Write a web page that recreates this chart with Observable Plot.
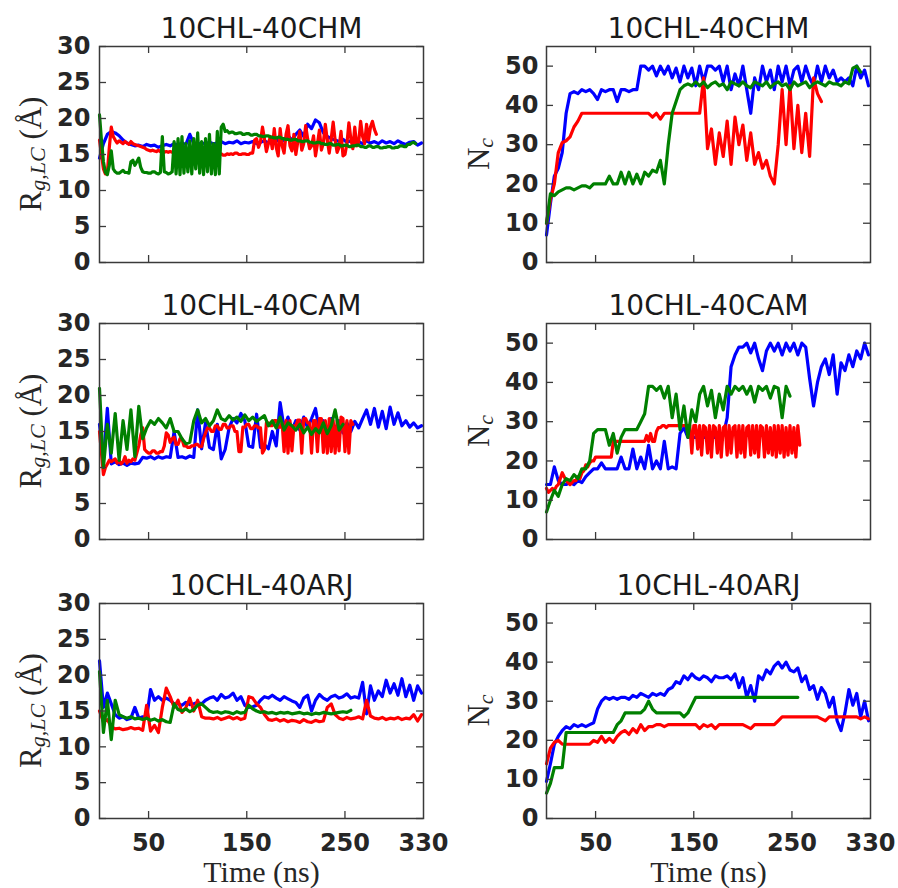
<!DOCTYPE html>
<html><head><meta charset="utf-8">
<script src="https://cdn.jsdelivr.net/npm/d3@7"></script>
<script src="https://cdn.jsdelivr.net/npm/@observablehq/plot@0.6"></script>
<style>
body{margin:0;background:#fff;}
#chart{position:relative;width:898px;height:888px;background:#fff;overflow:hidden;}
#chart svg{position:absolute;}
</style></head><body><div id="chart"></div>
<script>
// ---------------- data ----------------
const DT = 4;   // ns between samples (standard series)
const FINE = 2; // ns between samples (finely sampled, noisy series)
const xTicks = [50, 150, 250];
const xTickLabels = [50, 150, 250, 330];
const rgTicks = [0, 5, 10, 15, 20, 25, 30];
const ncTicks = [0, 10, 20, 30, 40, 50];
const panelTitles = ["10CHL-40CHM", "10CHL-40CAM", "10CHL-40ARJ"];
const seriesColors = ["#0000ff", "#ff0000", "#008000"];
const xLabel = "Time (ns)";

// Rg,LC (Å) — 10CHL-40CHM
const rgChmBlue = [14.5,16.5,17.8,18.2,18,17.6,17,16.6,16.4,16.2,
16.3,16.1,16.4,16.2,16.3,16,16.2,16.4,16.2,16.5,
16.3,16.6,16.4,17.8,16.5,16.4,16.6,16.5,16.7,16.5,
16.6,16.8,16.5,16.7,16.6,16.9,16.5,16.7,16.6,16.8,
16.5,16.7,16.9,16.6,17.2,16.8,17.4,16.9,17.6,17,
17.8,18.4,17.5,19.2,18.6,19.8,19.4,18,17.5,17.2,
17,16.8,17.1,16.7,16.9,16.6,16.8,16.5,16.9,16.6,
16.8,16.5,16.9,16.6,16.8,16.5,16.9,16.6,16.4,16.7,
16.8,16.3,16.6];
const rgChmRed = [17,15,13,12.3,12.5,16,18.8,17.5,17,16.6,
16.9,16.7,16.5,16.8,16.6,16.4,16.8,16.5,16.4,16.3,
16.2,16.1,16,15.9,15.7,15.6,15.5,15.6,15.5,15.4,
15.6,15.4,15.5,15.3,15.4,15.3,15.4,15.3,15.3,15.2,
15.3,15.2,15.2,15.3,15.4,15.2,15.2,15.3,15.3,15.1,
15.1,15.2,15.2,15,15.1,15.2,15.3,15.1,15.1,15.2,
15,15.1,15.1,14.9,14.9,15.1,15,15.1,15,15.2,
15.2,15,15,15.1,15.1,15,15,15.2,15.2,17,
17.2,16,16.8,18.8,17.2,15.4,16.5,17.5,15.8,18.6,
16,14.8,18.6,16.2,15.2,17.8,19,16.2,15.5,17.8,
15,16.8,18.2,15.6,16.5,19,17.2,15.8,16.2,17.6,
14.8,16.5,18.4,15.6,16.6,19.2,17,15.2,17.2,19.5,
17,15.3,16,18.2,14.8,15,16.5,19.4,17.2,15.8,
18.8,16.2,16.8,19.6,17.5,16.5,19.2,17,18.8,19.6,
18.5,17.8];
const rgChmGreen = [20.5,17,14,12.5,12.2,13.5,15.5,13,12.6,12.4,
12.4,12.6,12.8,12.5,12.5,12.4,14,14.2,13.5,14,
14.5,13.2,12.6,12.5,12.5,12.4,12.4,12.6,12.6,12.4,
12.3,12.5,17.5,12.6,12.5,12.3,12.4,12.6,16.8,12.3,
17.2,12.2,17.5,12.4,16.5,12.6,16.9,12.3,17.2,13,
18,12.4,16.8,12.2,17.2,12.6,17.8,12.3,16.5,12.2,
18.2,12.3,18.8,19.2,18.2,18.3,18,18.1,18.1,17.9,
17.9,18,18,17.8,17.8,17.9,17.9,17.7,17.7,17.8,
17.8,17.6,17.6,17.5,17.5,17.6,17.6,17.4,17.4,17.3,
17.3,17.4,17.4,17.2,17.2,17.1,17.1,17,17,17.1,
17.1,16.9,16.9,16.8,16.8,16.9,16.9,16.7,16.7,16.6,
16.6,16.7,16.7,16.5,16.5,16.4,16.4,16.5,16.5,16.3,
16.3,16.4,16.4,16.2,16.2,16.3,16.3,16.1,16.1,16.2,
16.2,16.3,16.3,16.1,16.1,16,16,16.2,16.2,16,
16,16.1,16.1,15.9,15.9,16,16,16.1,16.1,15.9,
15.9,16,16,16.2,16.2,16.1,16.1,16.4,16.4,16.6,
16.7,16.5];

// Nc — 10CHL-40CHM
const ncChmBlue = [7,15,22,24,28,38,43,43.5,43,44,
43.5,44,43,41.5,44,43.5,44,44,41,44,
44,43.5,44,44,50,50,49,50,47.5,50,
48,50,47,49.5,46,50,47,49.5,45,50,
46,50,50,49,50,46,50,44,48,45,
50,44,38,47,44,50,46,49,44,50,
46,50,45,49,50,46,50,47,45,50,
46,50,47,49,46,47,46,47,45,50,
47,49,45];
const ncChmRed = [10,16,20,28,30.5,31,32,34.5,36,38,
38,38,38,38,38,38,38,38,38,38,
38,38,38,38,38,38,38,37,38,36.5,
38,38,38,38,38,38,38,38,38,38,
47,29,34,25,33,27,36,25,37,30,
35,26,33,25,28,24,26,22,20,30,
44,30,45,29,40,28,38,27,47,43,
41];
const ncChmGreen = [10,17.5,17,18,18.5,19,19,18.5,19,19.5,
19.5,19,20,20,20,20,22,20,20,23,
20,23,20,22.5,20,23,22,23.5,23,26,
20,30,38,41,44,45,45.5,45,46,45,
46,44.5,45.5,46,45,45.5,44,46,45.5,45,
46,45,44.5,46,45.5,45,46,44.5,45.5,46,
45,45.5,44,46,45,45.5,46,44.5,45.5,46,
45.5,45,46,45.5,45.5,45,46,45.5,49.5,50,
48.5];

// Rg,LC (Å) — 10CHL-40CAM
const rgCamBlue = [16,11,18.2,10.5,10.8,10.4,10.6,10.3,10.6,10.5,
10.6,11.4,11.3,11.5,11.2,11.5,11.3,11.5,11.4,15,
11.4,11.5,11.3,11.6,11.4,18,12.6,16.2,12.8,12.5,
16,11.2,12.5,15.5,16.8,16.2,17.5,16.5,13,12.8,
17.4,12.8,13.2,12.6,15,13,19,15.5,17,15.2,
16.5,15.2,17,15.5,16.8,18.2,15,16.5,14.8,16.8,
15.2,16.5,14.8,16.2,15,16.4,15.5,16.8,18,16,
18.2,15.6,17.8,15.4,18.4,16,17.6,15.8,16.5,15.6,
16.2,15.5,15.8];
const rgCamRed = [15,12,9,10,10.5,11,10.8,11,11.2,10.6,
11,10.5,10.8,11.5,10.6,11,10.8,11.2,11,12,
13,14.5,15.5,12.5,12.2,12,12,12.3,12.3,12,
12,12.2,12.2,13,14.8,14.5,13.5,14,14.2,13.2,
13.2,14,14,13,13,12.8,12.8,13,13,13.2,
13.2,12.9,12.9,14,14.8,15.5,15.5,15,15,15.8,
15.8,15.3,15.3,16,16,15.5,15.5,15.8,15.8,15,
15,12.2,12.2,15.6,15.6,16,16,15.4,15.4,15.8,
15.8,15.5,15.5,12,12.5,16.2,16.2,15.8,15.8,16.5,
16.5,15.6,15.6,16.2,12.2,16.5,12,16.5,12.3,15.8,
15.8,16.6,16.6,12,16.8,16.8,16.2,16.2,12,16.5,
16.5,12.2,16.8,16.8,12.1,16.5,12,16.8,12.2,16.5,
12,16.5,12.3,17,16.8,12.2,16.5,12,16.5,16];
const rgCamGreen = [21,10,16,12,17.5,11,16.5,12.5,18,11.5,
18.5,14,15.5,16.5,16,16.8,16.2,15.5,16.8,15,
15,14,13.3,13.5,16.5,18,16.2,16.8,15.8,16.5,
18,16.8,16.5,17.2,16.6,17,16.4,17.3,16.5,17,
16.4,16.8,17.2,15.8,16.5,15.5,17,15.2,16.2,15.8,
15.2,16,14.8,15.6,14.6,15.4,14.8,16.2,14.7,15.8,
18,15.2,16];

// Nc — 10CHL-40CAM
const ncCamBlue = [14,14,18.5,15,14,14,14.5,14,15,14.5,
16,17,18,18,19.5,18,18,18,18,21,
18,18,23,18,21,18,24,18,20,18,
25,18,18.5,18,27,28.5,26,26,26,26,
26,26,26,26,26,26.5,31,44,47,49,
49,50,47.5,50,46,43,48,50,48,50,
47,50,48,50,47,50,49,41,34,40,
44,46,42,47,37,45,43,47,44,48,
46,50,47];
const ncCamRed = [13,12,12.5,13,12.5,13.5,14,15.5,17,16,
15,14.5,14,14.5,15,15,16,15.5,17,17.5,
19,18.5,19.5,20,20,21,21,21,21,21,
21,21,21,21,25,25,25,25,25,25,
25,25,25,25,25,25,25,25,25,25,
25,26.5,25,27,25,25,27.5,28.5,28.5,29,
29,28.5,29,29,29,29,29,29,29,29,
29,29,29,29,22,29,29,23,29,21.5,
29,28.5,22,29,21,29,28.5,22,29,21,
28.5,29,21.5,29,22,28.5,29,21,29,22,
29,21,28.5,29,21.5,29,22,29,21,29,
28.5,21,29,22,28.5,21.5,29,21,29,22,
29,21,28.5,21.5,29,22,28.5,21,29,24];
const ncCamGreen = [7,10,12.5,11,14,15.5,15,16.5,15.5,18,
18,20,27,28,28,28,24,27,22,26,
28,28,28,28,30,32,39,39,38,39,
36,39,31,37,28,34,26,33,30,37,
39,34,38,31,37,33,39,37,39,38,
39,37,39,35,39,38,39,36,39,38.5,
31,39,36.5];

// Rg,LC (Å) — 10CHL-40ARJ
const rgArjBlue = [22,15.5,17.5,16,14.5,14,14.2,13.8,14,15.5,
14,14.2,14,18,16.5,17,16.5,16.8,16.5,16,
16,15.8,16.2,15.9,16,16.2,16,16.5,16.8,17,
16.5,17.3,16.8,17,17.5,16.5,17,15.8,15.5,15.6,
15.8,16.5,17,16.8,17.2,16.8,16.5,17,16.7,16.4,
16.2,15.5,16.8,17.2,15,16.5,17.3,16.8,16.5,17,
17.2,16.8,17,17.4,16.8,17,16.8,19,14.6,18.5,
16.5,17.8,17,19.3,17.5,18.8,17.2,19.5,17,18.6,
16.5,18.5,17.5];
const rgArjRed = [15,13.5,13.8,12.8,12.5,12.6,12.4,12.5,12.7,12.5,
12.6,12.3,15.8,12.2,13,12,15.5,18.2,17,15.5,
16.5,14.8,15.5,16.8,15,16.5,14.2,14,14,13.9,
14.1,13.8,14,14.2,13.9,14.1,13.8,14,17,16.8,
16,15.5,14.5,13.8,13.7,13.9,13.6,13.8,13.5,13.7,
13.6,13.4,13.8,13.5,13.4,13.7,13.5,13.6,15.5,16,
14.5,14,13.8,14.1,13.9,14,14.2,13.9,16.5,14.3,
14,13.9,14.1,13.8,14,13.9,14.1,13.8,14,13.9,
14.5,13.6,14.5];
const rgArjGreen = [20.5,12,16.5,11,16.5,14.5,14.2,14,14.2,13.9,
14,13.8,14,13.7,13.9,13.6,13.8,13.5,13.4,16,
15.2,15,15.3,14.9,15.2,15.8,16,15.5,15,14.8,
14.9,14.7,14.9,14.8,14.6,14.9,14.7,14.8,15.8,15.3,
15,14.8,14.9,14.7,14.8,14.6,14.8,14.7,14.8,14.6,
14.7,14.8,14.6,14.7,14.5,14.7,14.6,14.8,14.7,14.6,
14.7,14.8,14.9,14.8,15.1];

// Nc — 10CHL-40ARJ
const ncArjBlue = [9.5,14,19,21,22.5,23.5,23,24,23.5,24,
23.5,24,24.5,28,30,31,30.5,31,30.5,31,
31,30.5,31.5,31,32,31.5,31,32,31.5,32,
31.5,33,33.5,35,34.5,36.5,35.5,37,36,35.5,
36.5,36,35,36.5,36,36,36.5,35.5,37,33.5,
36,31,34,30,36.5,35.5,38,37,39,40,
38.5,40,38,37.5,38.5,35,36.5,33,34,30.5,
33.5,32,28.5,31,25,22.5,27,33,29,32,
26,30,25];
const ncArjRed = [14,18,19.5,20,19,19,19,19,19,19,
19,19,20,19.5,21,19.5,20.5,19.5,21,22,
22.5,21.5,23,22,24,22.5,23.5,23.5,24,24,
23.5,24,24,24,24,24,24,24,24,23,
24,23.5,24,23,24,24,24,24,24,24,
24,23.5,23,24,24,24,24,24,24,25,
26,26,26,26,26,26,26,26,26,26,
25.5,25,26,26,26,26,26,26,26,26,
25.5,26,25.5];
const ncArjGreen = [6.5,9,13,13,13,22,22,22,22,22,
22,22,22,22,22,22,22,22,24,25,
27,27,27,27,27,28,30,28,27,27,
27,27,27,27,27,26,27,29,31,31,
31,31,31,31,31,31,31,31,31,31,
31,31,31,31,31,31,31,31,31,31,
31,31,31,31,31];

// ---------------- drawing ----------------
const rows = [
  {rg: [[rgChmBlue, DT], [rgChmRed, FINE], [rgChmGreen, FINE]],
   nc: [[ncChmBlue, DT], [ncChmRed, DT], [ncChmGreen, DT]]},
  {rg: [[rgCamBlue, DT], [rgCamRed, FINE], [rgCamGreen, DT]],
   nc: [[ncCamBlue, DT], [ncCamRed, FINE], [ncCamGreen, DT]]},
  {rg: [[rgArjBlue, DT], [rgArjRed, DT], [rgArjGreen, DT]],
   nc: [[ncArjBlue, DT], [ncArjRed, DT], [ncArjGreen, DT]]}
];
const rowLayout = [
  {top: 0, ph: 216, mb: 15},
  {top: 277, ph: 216, mb: 18},
  {top: 557, ph: 215, mb: 70}
];
const INK = "#3a3a3a";
const TXT = "#262626";
const chart = document.getElementById("chart");

function panel(r, col) {
  const {top, ph, mb} = rowLayout[r];
  const showX = r === 2;
  const W = 449, mt = 46;
  const ml = col === 0 ? 99 : 97, mr = col === 0 ? 26 : 28;
  const pw = W - ml - mr, H = mt + ph + mb;
  const lines = col === 0 ? rows[r].rg : rows[r].nc;
  const yTicks = col === 0 ? rgTicks : ncTicks;
  const yMax = col === 0 ? 30 : 55;
  const marks = [];
  lines.forEach(([vals, step], k) => {
    marks.push(Plot.line(vals.map((v, i) => ({t: i * step, v})),
      {x: "t", y: "v", stroke: seriesColors[k], strokeWidth: 3.2, strokeLinejoin: "round"}));
  });
  marks.push(Plot.frame({stroke: INK, strokeWidth: 1.5}));
  marks.push(Plot.tickY(yTicks, {y: d => d, stroke: INK, strokeWidth: 1.3, insetRight: pw - 7}));
  marks.push(Plot.tickY(yTicks, {y: d => d, stroke: INK, strokeWidth: 1.3, insetLeft: pw - 7}));
  marks.push(Plot.tickX(xTicks, {x: d => d, stroke: INK, strokeWidth: 1.3, insetTop: ph - 7}));
  marks.push(Plot.tickX(xTicks, {x: d => d, stroke: INK, strokeWidth: 1.3, insetBottom: ph - 7}));
  marks.push(Plot.axisY(yTicks, {anchor: "left", tickSize: 0, tickPadding: col === 0 ? 9 : 8, label: null,
    fontSize: 24, fontWeight: "bold", fill: TXT}));
  if (showX) {
    marks.push(Plot.axisX(xTickLabels, {anchor: "bottom", tickSize: 0, tickPadding: 15, label: null,
      fontSize: 24, fontWeight: "bold", fill: TXT}));
    marks.push(Plot.text([xLabel], {frameAnchor: "bottom", lineAnchor: "middle", dy: 54, fontSize: 30,
      fontFamily: "Liberation Serif", fill: TXT}));
  }
  marks.push(Plot.text([panelTitles[r]], {frameAnchor: "top", lineAnchor: "middle", dy: -17, fontSize: 28, fill: "#1a1a1a"}));
  const svg = Plot.plot({
    width: W, height: H, marginLeft: ml, marginRight: mr, marginTop: mt, marginBottom: mb,
    x: {domain: [0, 330], axis: showX ? undefined : null},
    y: {domain: [0, yMax]},
    style: {fontFamily: "DejaVu Sans", background: "transparent", overflow: "visible"},
    marks
  });
  svg.style.left = (col === 0 ? 0 : 449) + "px";
  svg.style.top = top + "px";
  // y-axis label with subscript
  const cy = mt + ph / 2;
  const lab = d3.select(svg).append("text")
    .attr("transform", `translate(${col === 0 ? 30 : 29},${cy}) rotate(-90)`)
    .attr("text-anchor", "middle").attr("dominant-baseline", "central")
    .attr("fill", TXT).style("font-family", "Liberation Serif").style("font-size", "31px");
  if (col === 0) {
    lab.append("tspan").text("R");
    lab.append("tspan").attr("dy", 7).style("font-size", "22px").style("font-style", "italic").text("g,LC");
    lab.append("tspan").attr("dy", -7).text(" (Å)");
  } else {
    lab.append("tspan").text("N");
    lab.append("tspan").attr("dy", 7).style("font-size", "22px").style("font-style", "italic").text("c");
  }
  chart.appendChild(svg);
}
for (let r = 0; r < 3; r++) { panel(r, 0); panel(r, 1); }
</script></body></html>
